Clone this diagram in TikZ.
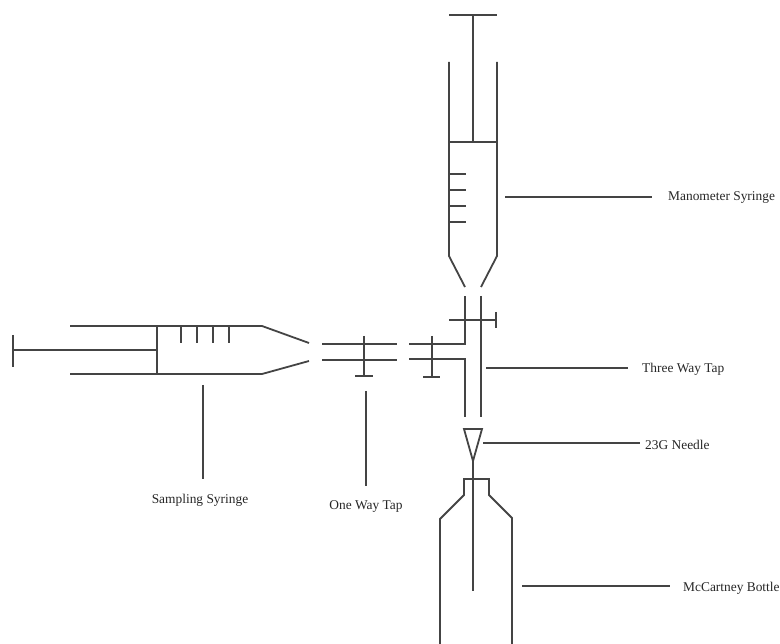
\documentclass[tikz,border=0pt]{standalone}
\usepackage{fontspec}
\setmainfont{Liberation Serif}
\usepackage{xcolor}
\usetikzlibrary{positioning}
\definecolor{inkgrey}{HTML}{444444}
\tikzset{
	part/.style={draw=inkgrey, line width=1.8pt},
	leader/.style={draw=inkgrey, line width=1.8pt},
	caption/.style={text=black!85, font=\fontsize{13.4}{15}\selectfont, inner sep=0pt},
}

\begin{document}
\begin{tikzpicture}[x=1pt, y=-1pt]
	\useasboundingbox (0,0) rectangle (780,644);

	% labels
	\node[caption,anchor=west] (manolabel) at (668,198) {Manometer Syringe};
	\node[caption,anchor=west] (threelabel) at (642,369) {Three Way Tap};
	\node[caption,anchor=west] (needlelabel) at (645,445) {23G Needle};
	\node[caption,anchor=west] (bottlelabel) at (683,588) {McCartney Bottle};
	\node[caption] (samplelabel) at (200,500) {Sampling Syringe};
	\node[caption] (onelabel) at (366,507) {One Way Tap};

	% leader ends
	\coordinate (manoend) at (505,197);
	\coordinate (threeend) at (486,368);
	\coordinate (needleend) at (483,443);
	\coordinate (bottleend) at (522,586);
	\coordinate (sampleend) at (203,385);
	\coordinate (oneend) at (366,391);

	\path[leader,shorten >=16pt] (manoend) -- (manoend -| manolabel.west);
	\path[leader,shorten >=14pt] (threeend) -- (threeend -| threelabel.west);
	\path[leader,shorten >=5pt] (needleend) -- (needleend -| needlelabel.west);
	\path[leader,shorten >=13pt] (bottleend) -- (bottleend -| bottlelabel.west);
	\path[leader,shorten >=15pt] (sampleend) -- (sampleend |- samplelabel.north);
	\path[leader,shorten >=15pt] (oneend) -- (oneend |- onelabel.north);

	% manometer syringe
	\draw[part] (449,62) -- (449,256) -- (465,287);
	\draw[part] (497,62) -- (497,256) -- (481,287);
	\draw[part] (449,142) -- (497,142);
	\draw[part] (473,142) -- (473,15);
	\draw[part] (449,15) -- (497,15);
	\foreach \y in {174,190,206,222}
		\draw[part] (449,\y) -- (466,\y);

	% sampling syringe
	\draw[part] (70,326) -- (262,326) -- (309,343);
	\draw[part] (70,374) -- (262,374) -- (309,361);
	\draw[part] (157,326) -- (157,374);
	\draw[part] (157,350) -- (13,350);
	\draw[part] (13,335) -- (13,367);
	\foreach \x in {181,197,213,229}
		\draw[part] (\x,326) -- (\x,343);

	% one way tap
	\draw[part] (322,344) -- (397,344);
	\draw[part] (322,360) -- (397,360);
	\draw[part] (364,336) -- (364,376);
	\draw[part] (355,376) -- (373,376);

	% three way tap
	\draw[part] (409,344) -- (465,344) -- (465,296);
	\draw[part] (409,359) -- (465,359) -- (465,417);
	\draw[part] (481,296) -- (481,417);
	\draw[part] (449,320) -- (496,320);
	\draw[part] (496,312) -- (496,328);
	\draw[part] (432,336) -- (432,377);
	\draw[part] (423,377) -- (440,377);

	% needle
	\draw[part] (464,429) -- (482,429) -- (473,461) -- cycle;
	\draw[part] (473,461) -- (473,591);

	% bottle
	\draw[part] (440,644) -- (440,519) -- (464,495) -- (464,479) -- (489,479) -- (489,495) -- (512,518) -- (512,644);
\end{tikzpicture}
\end{document}
